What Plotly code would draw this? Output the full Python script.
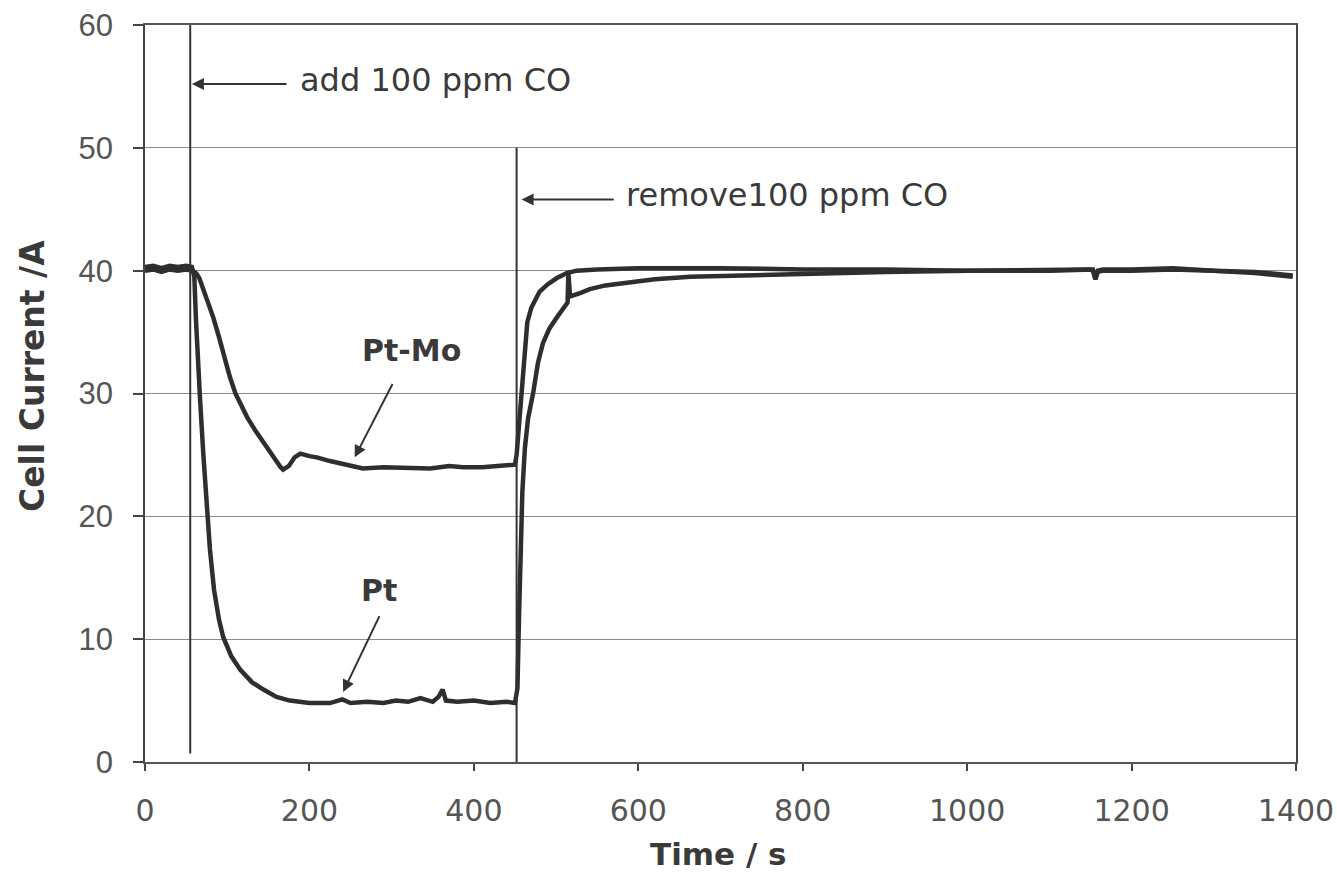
import plotly.graph_objects as go

# ---------------- data ----------------
pt_mo_time = [0, 10, 20, 30, 40, 50, 58, 62, 66, 72, 78, 83, 90, 96, 103, 110, 117, 124, 134, 144,
              152, 160, 165, 168, 175, 182, 189, 200, 209, 225, 246, 265, 290, 320, 347, 370, 387,
              410, 430, 444, 450, 452, 454, 456, 459, 462, 465, 470, 480, 490, 501, 513, 525, 550,
              600, 700, 800, 900, 1000, 1100, 1150, 1153, 1156, 1159, 1165, 1200, 1250, 1300, 1350, 1396]
pt_mo_current = [40.0, 40.1, 39.9, 40.1, 40.0, 40.1, 40.0, 39.8, 39.4, 38.3, 37.3, 36.2, 34.6, 33.0,
                 31.4, 30.0, 29.0, 28.1, 27.0, 26.0, 25.2, 24.4, 24.0, 23.8, 24.1, 24.8, 25.1, 24.9,
                 24.8, 24.5, 24.2, 23.9, 24.0, 23.9, 23.9, 24.1, 24.0, 24.0, 24.1, 24.2, 24.2, 25.0,
                 26.5, 28.0, 30.5, 33.5, 35.8, 37.0, 38.3, 38.9, 39.4, 39.8, 40.0, 40.1, 40.2, 40.2,
                 40.1, 40.1, 40.0, 40.0, 40.1, 40.1, 39.4, 40.0, 40.1, 40.1, 40.2, 40.0, 39.9, 39.6]

pt_time = [0, 10, 20, 30, 40, 50, 57, 60, 62, 64, 67, 71, 75, 79, 84, 90, 95, 105, 116, 130, 144, 160,
           176, 200, 225, 240, 250, 270, 290, 305, 320, 335, 350, 357, 362, 366, 380, 400, 420, 440, 450,
           453, 455, 457, 459, 462, 466, 472, 478, 484, 492, 501, 510, 514, 515, 517, 530, 541, 560, 581,
           620, 663, 720, 800, 900, 1000, 1100, 1150, 1153, 1156, 1159, 1165, 1200, 1250, 1300, 1350, 1396]
pt_current = [40.3, 40.4, 40.2, 40.4, 40.3, 40.4, 40.3, 39.5, 36.0, 32.5, 29.5, 25.0, 21.3, 17.3, 14.0,
              11.6, 10.2, 8.6, 7.5, 6.5, 5.9, 5.3, 5.0, 4.8, 4.8, 5.1, 4.8, 4.9, 4.8, 5.0, 4.9, 5.2, 4.9,
              5.3, 5.9, 5.0, 4.9, 5.0, 4.8, 4.9, 4.8, 6.0, 12.0, 18.0, 22.0, 25.5, 28.0, 30.0, 32.5, 34.1,
              35.3, 36.2, 37.0, 37.4, 39.8, 37.9, 38.2, 38.5, 38.8, 39.0, 39.3, 39.5, 39.6, 39.7, 39.9,
              40.0, 40.1, 40.1, 40.0, 39.3, 39.9, 40.0, 40.0, 40.1, 40.0, 39.8, 39.5]

add_co_time = 55
remove_co_time = 452

x_ticks = [0, 200, 400, 600, 800, 1000, 1200, 1400]
y_ticks = [0, 10, 20, 30, 40, 50, 60]

# ---------------- style ----------------
LINE = "#2e2e2e"
GRID = "#8a8a8a"
TXT = "#3a3a3a"
TICK = "#555555"
FONT = "DejaVu Sans"
FONT_Y = "Liberation Sans"

fig = go.Figure()
fig.add_trace(go.Scatter(x=pt_time, y=pt_current, mode="lines", name="Pt",
                         line=dict(color=LINE, width=4.5)))
fig.add_trace(go.Scatter(x=pt_mo_time, y=pt_mo_current, mode="lines", name="Pt-Mo",
                         line=dict(color=LINE, width=4.5)))

# event lines
fig.add_shape(type="line", xref="x", yref="y", x0=add_co_time, x1=add_co_time, y0=0.7, y1=60,
              line=dict(color="#333333", width=2))
fig.add_shape(type="line", xref="x", yref="y", x0=remove_co_time, x1=remove_co_time, y0=0, y1=50,
              line=dict(color="#333333", width=2))

arrow_kw = dict(showarrow=True, arrowhead=2, arrowsize=1.2, arrowwidth=2, arrowcolor="#333333",
                axref="x", ayref="y", xref="x", yref="y", text="")
fig.add_annotation(x=add_co_time + 2, y=55.2, ax=174, ay=55.2, **arrow_kw)
fig.add_annotation(x=remove_co_time + 6, y=45.8, ax=572, ay=45.8, **arrow_kw)
fig.add_annotation(x=255, y=24.8, ax=302, ay=30.9, **arrow_kw)
fig.add_annotation(x=241, y=5.7, ax=286, ay=12.0, **arrow_kw)

fig.add_annotation(x=186, y=55.5, text="add 100 ppm CO", showarrow=False, xanchor="left",
                   font=dict(family=FONT, size=32, color=TXT))
fig.add_annotation(x=583, y=46.2, text="remove100 ppm CO", showarrow=False, xanchor="left",
                   font=dict(family=FONT, size=32, color=TXT))
fig.add_annotation(x=324, y=33.5, text="<b>Pt-Mo</b>", showarrow=False,
                   font=dict(family=FONT, size=30, color=TXT))
fig.add_annotation(x=285, y=14.0, text="<b>Pt</b>", showarrow=False,
                   font=dict(family=FONT, size=30, color=TXT))

# axis titles
fig.add_annotation(xref="paper", yref="paper", x=(718 - 145) / 1151, y=(762 - 854) / 737,
                   text="<b>Time / s</b>", showarrow=False, xanchor="center", yanchor="middle",
                   font=dict(family=FONT, size=31, color=TXT))
fig.add_annotation(xref="paper", yref="paper", x=(32 - 145) / 1151, y=(762 - 376) / 737,
                   text="<b>Cell Current /A</b>", showarrow=False, textangle=-90,
                   xanchor="center", yanchor="middle",
                   font=dict(family=FONT, size=33, color=TXT))

fig.update_xaxes(range=[0, 1400], tickvals=x_ticks, ticks="outside", ticklen=7, tickwidth=1.5,
                 tickcolor="#444", showgrid=False, zeroline=False, automargin=False,
                 showline=True, linecolor="#555", linewidth=1.5, mirror=True,
                 ticklabelstandoff=14,
                 tickfont=dict(family=FONT, size=30, color=TICK))
fig.update_yaxes(range=[0, 60], tickvals=y_ticks, ticks="outside", ticklen=10, tickwidth=1.5,
                 tickcolor="#444", showgrid=True, gridcolor=GRID, gridwidth=1.3, zeroline=False,
                 automargin=False, showline=True, linecolor="#444", linewidth=1.5, mirror=True,
                 ticklabelstandoff=14,
                 tickfont=dict(family=FONT_Y, size=31, color=TICK))

fig.update_layout(width=1337, height=874, margin=dict(l=145, r=41, t=25, b=112),
                  paper_bgcolor="white", plot_bgcolor="white", showlegend=False)

fig.write_html("out.html")
